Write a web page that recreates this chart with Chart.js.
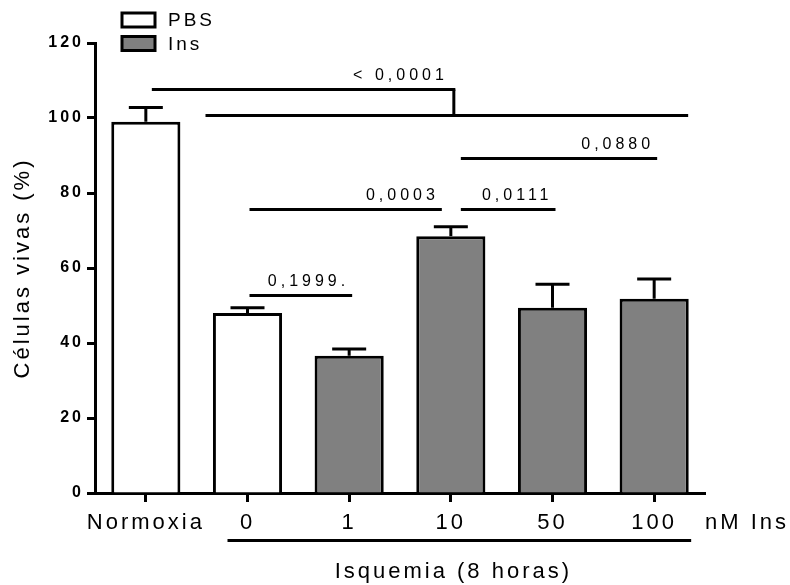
<!DOCTYPE html>
<html>
<head>
<meta charset="utf-8">
<script src="https://cdn.jsdelivr.net/npm/chart.js@4"></script>
<style>
  html, body { margin: 0; padding: 0; background: #ffffff; }
  #wrap { width: 790px; height: 585px; }
</style>
</head>
<body>
<div id="wrap"><canvas id="c" width="790" height="585"></canvas></div>
<script>
// Viable cells (%) per group, mean and SEM
const categories = ['Normoxia', '0', '1', '10', '50', '100'];
const pbsValues = [99.0, 48.0, null, null, null, null];
const insValues = [null, null, 36.6, 68.5, 49.4, 51.8];
const semValues = [3.8, 1.4, 1.8, 2.5, 6.3, 5.3];
const yTicks = [0, 20, 40, 60, 80, 100, 120];

// Pairwise comparisons: p-value label, first group, second group, bracket height (%)
const compLabels = ['0,1999.', '0,0003', '0,0111', '0,0880'];
const compFrom = ['0', '0', '10', '10'];
const compTo = ['1', '10', '50', '100'];
const compLevels = [52.8, 75.7, 75.7, 89.3];

// Normoxia against all ischemia groups: label, upper and lower bracket heights (%)
const overallLabel = '< 0,0001';
const overallLevels = [107.7, 100.8];

const FONT = '"Liberation Sans", Arial, Helvetica, sans-serif';
const INK = '#000000';

function spacedText(ctx, text, x, y, size, align, spacing, weight) {
  ctx.save();
  ctx.font = (weight ? weight + ' ' : '') + size + 'px ' + FONT;
  ctx.letterSpacing = spacing + 'px';
  ctx.fillStyle = INK;
  ctx.textBaseline = 'middle';
  let w = ctx.measureText(text).width - spacing;
  let left = x;
  if (align === 'center') left = x - w / 2;
  else if (align === 'right') left = x - w;
  ctx.textAlign = 'left';
  ctx.fillText(text, left, y);
  ctx.restore();
}

function hLine(ctx, x1, x2, y) {
  ctx.beginPath();
  ctx.moveTo(x1, y);
  ctx.lineTo(x2, y);
  ctx.stroke();
}

const figurePlugin = {
  id: 'figureDecor',
  beforeDraw(chart) {
    chart.ctx.letterSpacing = '3px';
  },
  afterDatasetsDraw(chart) {
    const ctx = chart.ctx;
    const xs = chart.scales.x, ys = chart.scales.y;
    ctx.save();
    ctx.strokeStyle = INK;
    ctx.lineWidth = 3;
    ctx.lineCap = 'butt';
    // error bars (upper side only)
    categories.forEach((c, i) => {
      const v = pbsValues[i] != null ? pbsValues[i] : insValues[i];
      const x = xs.getPixelForValue(i);
      const yv = ys.getPixelForValue(v);
      const ye = ys.getPixelForValue(v + semValues[i]);
      ctx.beginPath();
      ctx.moveTo(x, yv);
      ctx.lineTo(x, ye);
      ctx.stroke();
      hLine(ctx, x - 17, x + 17, ye);
    });
    ctx.restore();
  },
  afterDraw(chart) {
    const ctx = chart.ctx;
    const xs = chart.scales.x, ys = chart.scales.y;
    const area = chart.chartArea;
    const cx = (c) => xs.getPixelForValue(categories.indexOf(c));
    ctx.save();
    ctx.strokeStyle = INK;
    ctx.lineWidth = 3;
    ctx.lineCap = 'butt';

    // pairwise comparison bars
    const shared = compFrom.filter(c => compTo.includes(c));
    compLabels.forEach((lab, k) => {
      const y = Math.round(ys.getPixelForValue(compLevels[k])) + 0.5;
      const x1 = cx(compFrom[k]) + (shared.includes(compFrom[k]) ? 10 : 2);
      const x2 = cx(compTo[k]) + (shared.includes(compTo[k]) ? -9 : 3);
      hLine(ctx, x1, x2, y);
      spacedText(ctx, lab, x2 - 7, y - 14, 16, 'right', 4);
    });

    // Normoxia vs ischemia bracket
    const yU = Math.round(ys.getPixelForValue(overallLevels[0])) + 0.5;
    const yL = Math.round(ys.getPixelForValue(overallLevels[1])) + 0.5;
    const xN = cx('Normoxia') + 6;
    const xV = cx('10') + 3;
    hLine(ctx, xN, xV + 1.5, yU);
    ctx.beginPath();
    ctx.moveTo(xV, yU);
    ctx.lineTo(xV, yL);
    ctx.stroke();
    hLine(ctx, cx('0') - 42, cx('100') + 34, yL);
    spacedText(ctx, overallLabel, xV - 10, yU - 14, 16, 'right', 4);

    // dose unit and ischemia group marker
    const labelY = 523;
    spacedText(ctx, 'nM Ins', area.right, labelY, 22, 'left', 3);
    hLine(ctx, cx('0') - 20, cx('100') + 37, 540.5);
    spacedText(ctx, 'Isquemia (8 horas)', cx('10') + 1, 572, 22, 'center', 3);

    // legend
    const items = chart.data.datasets;
    items.forEach((ds, k) => {
      const by = 13 + k * 23.5;
      ctx.fillStyle = ds.backgroundColor;
      ctx.fillRect(122, by, 33, 14);
      ctx.strokeRect(122, by, 33, 14);
      spacedText(ctx, ds.label, 168, by + 8, 19, 'left', 3);
    });
    ctx.restore();
  }
};

new Chart(document.getElementById('c'), {
  type: 'bar',
  data: {
    labels: categories,
    datasets: [
      { label: 'PBS', data: pbsValues, backgroundColor: '#ffffff', borderColor: INK, borderWidth: 3 },
      { label: 'Ins', data: insValues, backgroundColor: '#808080', borderColor: INK, borderWidth: 3 }
    ]
  },
  options: {
    responsive: false,
    animation: false,
    events: [],
    layout: { padding: { left: 0, right: 85, top: 43, bottom: 0 } },
    datasets: { bar: { grouped: false, barPercentage: 0.68, categoryPercentage: 1 } },
    scales: {
      x: {
        grid: { display: true, drawOnChartArea: false, drawTicks: true, offset: false,
                tickLength: 9, tickWidth: 3, tickColor: INK },
        border: { display: true, color: INK, width: 3 },
        ticks: { font: { family: FONT, size: 22 }, color: INK, padding: 8, autoSkip: false, maxRotation: 0 },
        afterFit(s) { s.height = 92; }
      },
      y: {
        min: 0, max: 120,
        afterBuildTicks(s) { s.ticks = yTicks.map(v => ({ value: v })); },
        grid: { display: true, drawOnChartArea: false, drawTicks: true,
                tickLength: 8, tickWidth: 3, tickColor: INK },
        border: { display: true, color: INK, width: 3 },
        ticks: { font: { family: FONT, size: 16, weight: 'bold' }, color: INK, padding: 3 },
        title: { display: true, text: 'Células vivas (%)', color: INK,
                 font: { family: FONT, size: 22 }, padding: { top: 10, bottom: 0 } },
        afterFit(s) { s.width = 95; }
      }
    },
    plugins: { legend: { display: false }, tooltip: { enabled: false } }
  },
  plugins: [figurePlugin]
});
</script>
</body>
</html>
